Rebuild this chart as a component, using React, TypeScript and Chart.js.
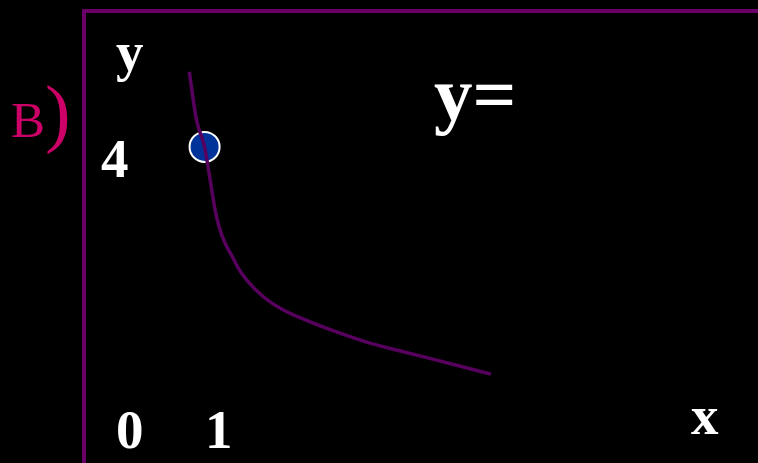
import React, { useEffect, useRef } from "react";
import { Chart, registerables } from "chart.js";

Chart.register(...registerables);

// Curve values
const curveX = [0.83, 0.91, 1.0, 1.044, 1.08, 1.117, 1.161, 1.228, 1.309, 1.376, 1.469, 1.653, 1.876, 2.172, 2.498, 2.839, 3.209, 3.58, 4.183];
const curveY = [5.0, 4.36, 4.0, 3.693, 3.427, 3.16, 2.937, 2.716, 2.537, 2.383, 2.227, 2.004, 1.827, 1.671, 1.524, 1.387, 1.271, 1.16, 0.973];

// Marked point
const pointX = [1];
const pointY = [4];

// Axis labels
const xTickLabels = ["0", "1"];
const yTickLabels = ["4"];
const xAxisLabel = "x";
const yAxisLabel = "y";
const formulaLabel = "y=";
const partLetter = "B";
const partParen = ")";

const W = 758;
const H = 463;

const SERIF = "'Liberation Serif', 'Times New Roman', serif";

const textPlugin = {
  id: "slideText",
  afterDraw(chart: any) {
    const ctx = chart.ctx as CanvasRenderingContext2D;
    ctx.save();
    ctx.textBaseline = "alphabetic";
    ctx.textAlign = "left";
    const put = (t: string, x: number, y: number, font: string, color: string) => {
      ctx.font = font;
      ctx.fillStyle = color;
      ctx.fillText(t, x, y);
    };
    const big = `bold 55px ${SERIF}`;
    put(yAxisLabel, 116, 70, big, "#ffffff");
    put(yTickLabels[0], 101, 177, big, "#ffffff");
    put(xTickLabels[0], 116, 448, big, "#ffffff");
    put(xTickLabels[1], 205, 448, big, "#ffffff");
    put(xAxisLabel, 691, 434, big, "#ffffff");
    put(formulaLabel, 434, 120, `bold 77px ${SERIF}`, "#ffffff");
    put(partLetter, 11, 137, `51px ${SERIF}`, "#cc0066");
    put(partParen, 45, 138, `77px ${SERIF}`, "#cc0066");
    ctx.restore();
  },
};

export default function App() {
  const ref = useRef<HTMLCanvasElement | null>(null);

  useEffect(() => {
    document.body.style.margin = "0";
    document.body.style.background = "#000";
    if (!ref.current) return;
    const chart = new Chart(ref.current, {
      type: "scatter",
      data: {
        datasets: [
          {
            type: "line",
            data: curveX.map((x, i) => ({ x, y: curveY[i] })),
            borderColor: "#58005e",
            borderWidth: 3.5,
            pointRadius: 0,
            fill: false,
            cubicInterpolationMode: "monotone",
          } as any,
          {
            data: pointX.map((x, i) => ({ x, y: pointY[i] })),
            backgroundColor: "#003399",
            borderColor: "#ffffff",
            borderWidth: 2,
            pointRadius: 15,
          },
        ],
      },
      options: {
        responsive: false,
        animation: false,
        events: [],
        layout: { autoPadding: false, padding: { left: 84, top: 11, right: 0, bottom: 0 } },
        plugins: { legend: { display: false }, tooltip: { enabled: false } },
        scales: {
          x: {
            type: "linear",
            position: "top",
            min: -0.34,
            max: 7.15,
            grid: { display: false, drawTicks: false },
            ticks: { display: false },
            border: { display: true, color: "#680068", width: 4 },
          },
          y: {
            type: "linear",
            position: "left",
            min: -0.21,
            max: 5.81,
            grid: { display: false, drawTicks: false },
            ticks: { display: false },
            border: { display: true, color: "#680068", width: 4 },
          },
        },
      },
      plugins: [textPlugin],
    });
    return () => chart.destroy();
  }, []);

  return (
    <div style={{ width: W, height: H, background: "#000" }}>
      <canvas ref={ref} width={W} height={H} style={{ display: "block" }} />
    </div>
  );
}
